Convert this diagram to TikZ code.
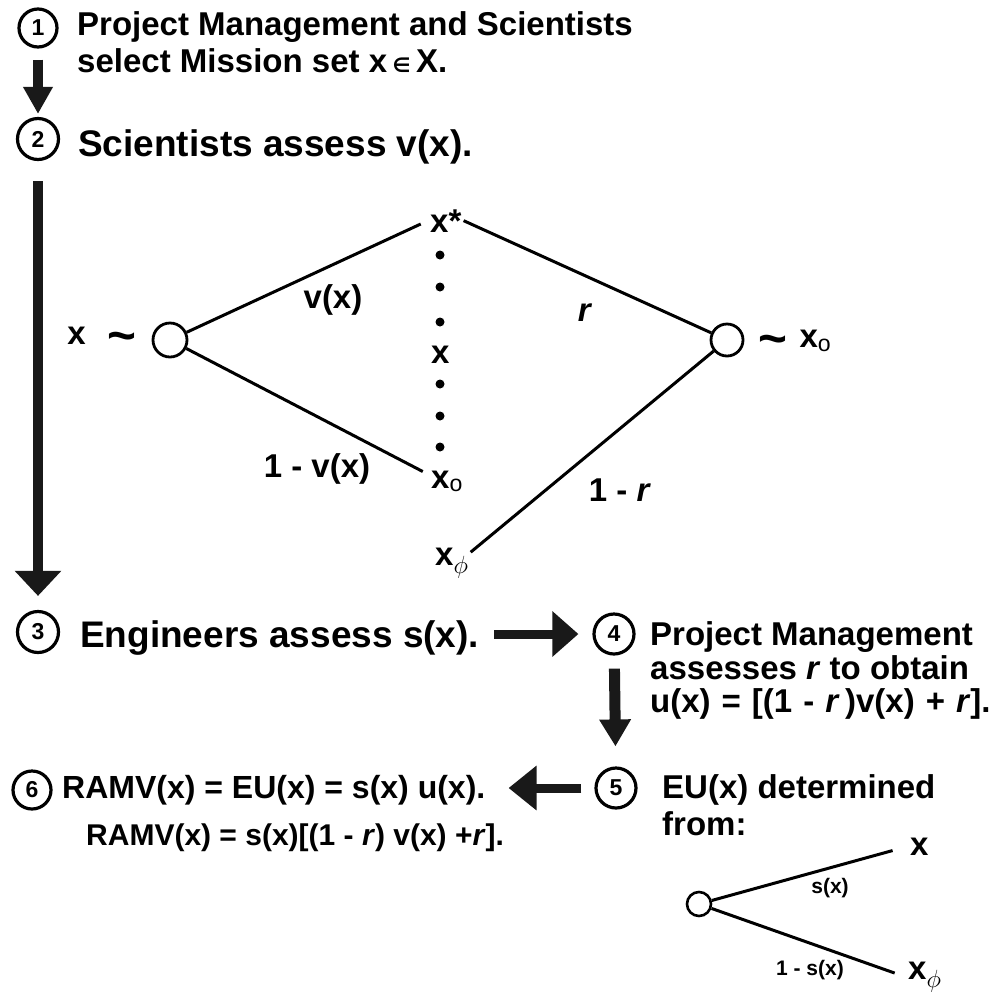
\documentclass[tikz,border=0pt]{standalone}
\usepackage{fontspec}
\usepackage{graphicx}
\setmainfont{Liberation Sans}
\newfontfamily\dejavu{DejaVu Sans}
\usetikzlibrary{arrows.meta, positioning, calc}

\begin{document}
\begin{tikzpicture}[
  x=1pt, y=-1pt,
  stepnum/.style={draw, circle, line width=3.2pt, minimum size=38pt, inner sep=0pt, font=\bfseries\fontsize{23}{23}\selectfont},
  txt/.style={anchor=base west, inner sep=0pt, font=\bfseries\fontsize{33}{33}\selectfont},
  bigtxt/.style={txt, font=\bfseries\fontsize{37}{37}\selectfont},
  lab/.style={inner sep=2pt, font=\bfseries\fontsize{33}{33}\selectfont},
  smalllab/.style={inner sep=2pt, font=\bfseries\fontsize{21}{21}\selectfont},
  chance/.style={draw, circle, line width=2.8pt, minimum size=34pt, inner sep=0pt},
  branch/.style={line width=3pt},
  arr/.style={line width=10pt, black!90, -{Triangle[width=44pt,length=26pt]}}
]
\fill[white] (0,0) rectangle (996,994);
\useasboundingbox (0,0) rectangle (996,994);

% steps 1 and 2
\node[stepnum] (n1) at (38, 28) {1};
\node[txt] (t1a) at (77, 35) {Project Management and Scientists};
\node[txt] (t1b) at (77, 72) {select Mission set x\,{\dejavu\fontsize{20}{20}\selectfont ∈}\,X.};
\node[stepnum, minimum size=41pt] (n2) at (38, 139) {2};
\node[bigtxt] (t2) at (78, 156) {Scientists assess v(x).};

% lottery for v(x)
\node[chance] (lc) at (170, 340) {};
\node[lab] (lx) at (102, 340) {x\hspace{22pt}\raisebox{-8pt}{\scalebox{1.5}{\textasciitilde}}};
\node[lab, anchor=base west] (xs) at (428, 232) {x*};
\node[lab, anchor=base west] (xm) at (429, 363) {x};
\node[lab, anchor=base west] (xo) at (429, 488) {x\textsubscript{\mdseries o}};
\node[lab, anchor=base west] (xphi) at (433, 565) {x$_\phi$};
\node[chance, minimum size=32pt] (rc) at (727, 340) {};
\node[lab] (rx) at (795, 343) {\raisebox{-8pt}{\scalebox{1.5}{\textasciitilde}}\hspace{12pt}x\textsubscript{\mdseries o}};
\foreach \y in {255, 287, 322, 384, 416, 447}
  \fill (440, \y) circle (4.5pt);

\draw[branch, shorten >=8pt] (lc) -- (xs.west);
\draw[branch, shorten >=7pt] (lc) -- (xo.160);
\draw[branch] (xs.east) -- (rc);
\draw[branch] (xphi.30) -- (rc);

\node[lab] (lv) at (333, 300) {v(x)};
\node[lab] (l1v) at (317, 469) {1 - v(x)};
\node[lab] (lr) at (585, 313) {\textit{r}};
\node[lab] (l1r) at (620, 490) {1 - \textit{r}};

% step 3
\node[stepnum, minimum size=41pt] (n3) at (38, 632) {3};
\node[bigtxt] (t3) at (80, 647) {Engineers assess s(x).};

% step 4
\node[stepnum, minimum size=40pt] (n4) at (614, 634) {4};
\node[txt] (t4a) at (650, 645) {Project Management};
\node[txt] (t4b) at (650, 679) {assesses \textit{r} to obtain};
\node[txt] (t4c) at (650, 712) {\spaceskip=11pt u(x) = [(1 - \textit{r}\,)v(x) + \textit{r}].};

% step 5
\node[stepnum, minimum size=40pt] (n5) at (616, 788) {5};
\node[txt] (t5a) at (662, 798) {EU(x) determined};
\node[txt] (t5b) at (662, 835) {from:};

\node[chance, minimum size=24pt, line width=2.6pt] (sc) at (699, 904) {};
\node[lab, anchor=base west] (sx) at (908, 855) {x};
\node[lab, anchor=base west] (sxphi) at (906, 979) {x$_\phi$};
\draw[branch, shorten >=16pt] (sc) -- (sx.west);
\draw[branch, shorten >=12pt] (sc) -- (sxphi.west);
\node[smalllab] (ls) at (830, 888) {s(x)};
\node[smalllab] (l1s) at (810, 970) {1 - s(x)};

% step 6
\node[stepnum] (n6) at (32, 790) {6};
\node[txt, font=\bfseries\fontsize{32}{32}\selectfont] (t6a) at (62, 798) {RAMV(x) = EU(x) = s(x) u(x).};
\node[txt, font=\bfseries\fontsize{30}{30}\selectfont] (t6b) at (86, 845) {RAMV(x) = s(x)[(1 - \textit{r}) v(x) +\textit{r}].};

% flow arrows
\draw[arr, -{Triangle[width=28pt,length=27pt]}, shorten <=11pt, shorten >=3pt] (n1) -- (n2);
\draw[arr, -{Triangle[width=45pt,length=25pt]}, shorten <=20pt, shorten >=14pt] (n2) -- (n3);
\draw[arr, line width=9pt, shorten <=15pt, shorten >=14pt] (t3.east |- n4) -- (n4);
\draw[arr, line width=11pt, -{Triangle[width=30pt,length=27pt]}, shorten <=13pt, shorten >=20pt] (n4) -- (n5);
\draw[arr, line width=9pt, -{Triangle[width=43pt,length=28pt]}, shorten <=13pt, shorten >=23pt] (n5) -- (t6a.east |- n5);

\end{tikzpicture}
\end{document}
